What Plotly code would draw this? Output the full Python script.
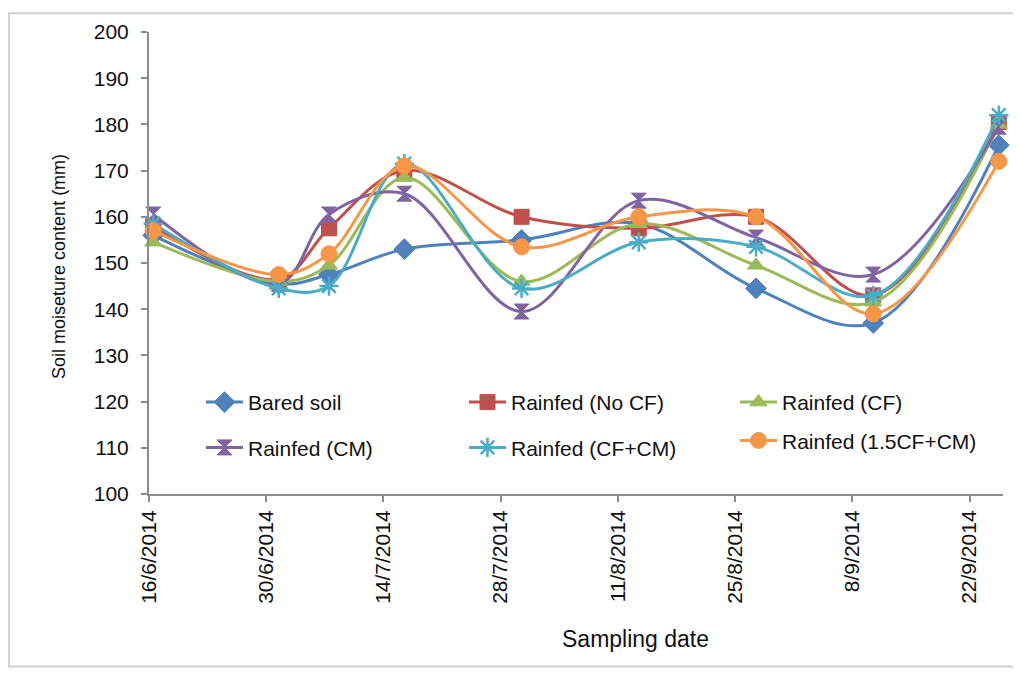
import plotly.graph_objects as go
import pandas as pd

# ---- data ----
sample_dates = ["2014-06-16", "2014-07-01", "2014-07-07", "2014-07-16", "2014-07-30",
                "2014-08-13", "2014-08-27", "2014-09-10", "2014-09-25"]
tick_dates = ["2014-06-16", "2014-06-30", "2014-07-14", "2014-07-28",
              "2014-08-11", "2014-08-25", "2014-09-08", "2014-09-22"]
tick_labels = ["16/6/2014", "30/6/2014", "14/7/2014", "28/7/2014",
               "11/8/2014", "25/8/2014", "8/9/2014", "22/9/2014"]

bared_soil = [156, 145.5, 147.5, 153, 155, 158.5, 144.5, 137, 175.5]
rainfed_nocf = [158, 146.5, 157.5, 170, 160, 157.5, 160, 143, 180.5]
rainfed_cf = [154.5, 146, 149.5, 168.5, 146, 158.5, 149.5, 141.5, 180]
rainfed_cm = [160.5, 145.5, 160.5, 165, 139.5, 163.5, 155.5, 147.5, 179.5]
rainfed_cfcm = [158.5, 144.5, 145, 171.5, 144.5, 154.5, 153.5, 143, 182]
rainfed_15cfcm = [157, 147.5, 152, 171, 153.5, 160, 160, 139, 172]

series = [
    ("Bared soil", bared_soil, "#4F81BD", "diamond", 16, "legend"),
    ("Rainfed (No CF)", rainfed_nocf, "#C0504D", "square", 15, "legend2"),
    ("Rainfed (CF)", rainfed_cf, "#9BBB59", "triangle-up", 15, "legend3"),
    ("Rainfed (CM)", rainfed_cm, "#8064A2", "hourglass", 15, "legend"),
    ("Rainfed (CF+CM)", rainfed_cfcm, "#4BACC6", "asterisk-open", 16, "legend2"),
    ("Rainfed (1.5CF+CM)", rainfed_15cfcm, "#F79646", "circle", 16, "legend3"),
]

# points sit in the middle of their day on the date axis
x_pos = pd.to_datetime(sample_dates) + pd.Timedelta(hours=12)

FONT = "Liberation Sans, Arial, sans-serif"
fig = go.Figure()
for i, (name, vals, color, sym, size, lg) in enumerate(series):
    if sym == "asterisk-open":
        marker = dict(symbol=sym, size=size, color=color, line=dict(color=color, width=2.5))
    else:
        marker = dict(symbol=sym, size=size, color=color, line=dict(color=color, width=1))
    fig.add_trace(go.Scatter(
        x=x_pos, y=vals, name=name, mode="lines+markers",
        line=dict(color=color, width=3, shape="spline", smoothing=1.0),
        marker=marker, cliponaxis=False, legend=lg, legendgroup="g%d" % i,
    ))

# page has an 8px body margin: work in page pixels and convert
OFF = 8
W, H = 1021 - OFF, 673 - OFF
L, R, T, B = 149 - OFF, 18, 28 - OFF, 179
pw, ph = W - L - R, H - T - B

def px_x(p):
    return (p - OFF - L) / pw

def px_y(p):
    return (H - B - (p - OFF)) / ph

def legend_at(xpage, ypage, gap):
    return dict(orientation="v", xanchor="left", yanchor="top",
                x=px_x(xpage), y=px_y(ypage),
                font=dict(family=FONT, size=21, color="#111111"),
                bgcolor="rgba(0,0,0,0)", traceorder="grouped",
                tracegroupgap=gap, itemwidth=37, itemclick=False)

fig.update_layout(
    width=W, height=H,
    margin=dict(l=L, r=R, t=T, b=B),
    paper_bgcolor="white", plot_bgcolor="white",
    font=dict(family=FONT, size=20, color="#111111"),
    legend=legend_at(201, 381, 15),
    legend2=legend_at(464, 381, 15),
    legend3=legend_at(735, 381, 8),
    xaxis=dict(
        type="date", range=["2014-06-16", "2014-09-26"],
        tickvals=tick_dates, ticktext=tick_labels, tickangle=-90,
        showgrid=False, zeroline=False,
        showline=True, linecolor="#8c8c8c", linewidth=2,
        ticks="outside", ticklen=6, tickcolor="#8c8c8c", tickwidth=1.5,
        tickfont=dict(family=FONT, size=21, color="#111111"),
    ),
    yaxis=dict(
        range=[100, 200], dtick=10, tick0=100,
        showgrid=False, zeroline=False,
        showline=True, linecolor="#8c8c8c", linewidth=2,
        ticks="outside", ticklen=6, tickcolor="#8c8c8c", tickwidth=1.5,
        ticklabelstandoff=8,
        tickfont=dict(family=FONT, size=21, color="#111111"),
    ),
    annotations=[
        dict(text="Sampling date", xref="paper", yref="paper",
             x=px_x(635), y=px_y(655), showarrow=False,
             font=dict(family=FONT, size=23, color="#111111")),
        dict(text="Soil moiseture content (mm)", xref="paper", yref="paper",
             x=px_x(47), y=px_y(265), showarrow=False, textangle=-90,
             font=dict(family=FONT, size=18, color="#111111")),
    ],
    shapes=[
        dict(type="rect", xref="paper", yref="paper",
             x0=px_x(9), x1=px_x(1014), y0=px_y(668), y1=px_y(9),
             line=dict(color="#d0d0d0", width=2), fillcolor="rgba(0,0,0,0)", layer="below"),
    ],
)

fig.write_html("out.html")
